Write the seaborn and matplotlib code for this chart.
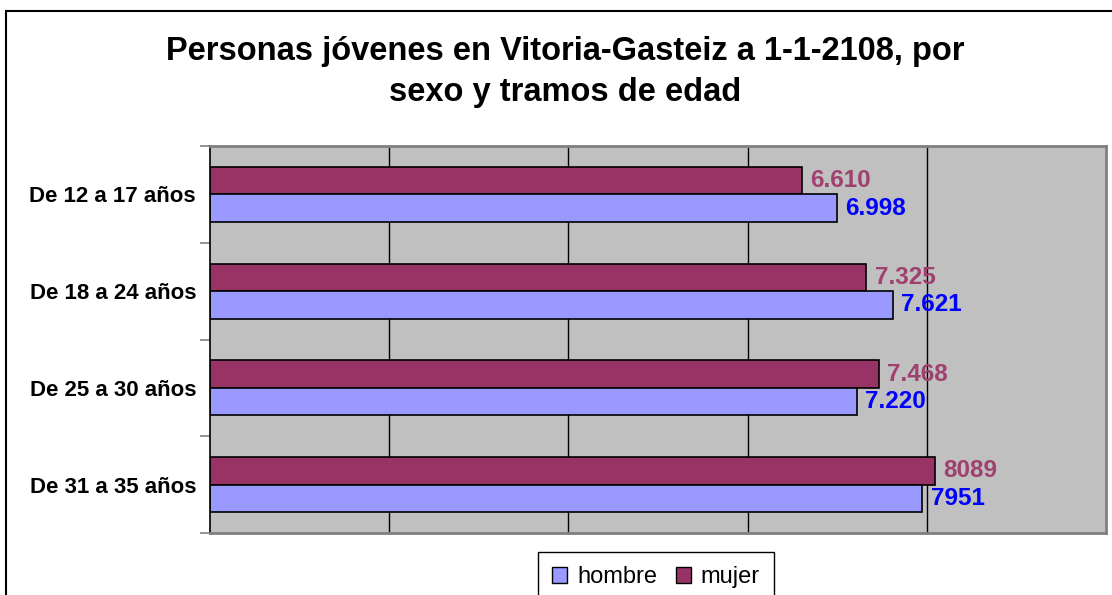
import pandas as pd
import seaborn as sns
import matplotlib.pyplot as plt
from matplotlib.patches import Patch, Rectangle

# datos
tramos = ["De 12 a 17 años", "De 18 a 24 años", "De 25 a 30 años", "De 31 a 35 años"]
hombre = [6998, 7621, 7220, 7951]
mujer = [6610, 7325, 7468, 8089]
etiq_hombre = ["6.998", "7.621", "7.220", "7951"]
etiq_mujer = ["6.610", "7.325", "7.468", "8089"]

col_hombre = "#9999FF"
col_mujer = "#993366"

df = pd.DataFrame({
    "tramo": tramos * 2,
    "sexo": ["mujer"] * len(tramos) + ["hombre"] * len(tramos),
    "personas": mujer + hombre,
})

plt.rcParams['font.family'] = ['Liberation Sans', 'DejaVu Sans']

W, H = 1112, 595
fig = plt.figure(figsize=(W / 100, H / 100), dpi=100)
ax = fig.add_axes([210 / W, 1 - 533 / H, (1106 - 210) / W, (533 - 146) / H])

sns.barplot(data=df, y="tramo", x="personas", hue="sexo", order=tramos,
            hue_order=["mujer", "hombre"],
            palette={"mujer": col_mujer, "hombre": col_hombre},
            orient="h", width=0.57, saturation=1, edgecolor="black",
            linewidth=1.2, legend=False, ax=ax)

# etiquetas de valor
ax.bar_label(ax.containers[0], labels=etiq_mujer, padding=6, color="#A04070",
             fontsize=17.5, fontweight="bold")
ax.bar_label(ax.containers[1], labels=etiq_hombre, padding=6, color="#0000FF",
             fontsize=17.5, fontweight="bold")

ax.set_facecolor("#C0C0C0")
ax.set_xlim(0, 10000)
ax.set_xticks([2000, 4000, 6000, 8000])
ax.set_xticklabels([])
ax.tick_params(axis="x", length=0)
ax.grid(axis="x", color="black", linewidth=1)
ax.set_axisbelow(True)

ax.set_ylim(len(tramos) - 0.5, -0.5)
ax.set_yticks([i - 0.5 for i in range(len(tramos) + 1)], minor=True)
ax.tick_params(axis="y", which="major", length=0, pad=10, labelsize=16)
ax.tick_params(axis="y", which="minor", length=7, color="#808080", width=1.2)
for t in ax.get_yticklabels():
    t.set_fontweight("bold")
ax.set_xlabel("")
ax.set_ylabel("")

for s in ["top", "right", "bottom"]:
    ax.spines[s].set_color("#808080")
    ax.spines[s].set_linewidth(2)
ax.spines["left"].set_color("black")
ax.spines["left"].set_linewidth(1.2)

# titulo
fig.text(565 / W, 1 - 60 / H, "Personas jóvenes en Vitoria-Gasteiz a 1-1-2108, por",
         ha="center", va="baseline", fontsize=23.5, fontweight="bold")
fig.text(565 / W, 1 - 101 / H, "sexo y tramos de edad",
         ha="center", va="baseline", fontsize=23.5, fontweight="bold")

handles = [Patch(facecolor=col_hombre, edgecolor="black", label="hombre"),
           Patch(facecolor=col_mujer, edgecolor="black", label="mujer")]
leg = fig.legend(handles=handles, loc="upper center", bbox_to_anchor=(656 / W, 1 - 552 / H),
                 borderaxespad=0, ncol=2, frameon=True, fancybox=False, edgecolor="black",
                 framealpha=1, fontsize=17, handlelength=0.64, handleheight=0.64,
                 handletextpad=0.42, columnspacing=0.8, borderpad=0.6)
leg.get_frame().set_linewidth(1)

# borde exterior del grafico
fig.patches.append(Rectangle((6 / W, -0.1), 1.2, 1 - 11 / H + 0.1, transform=fig.transFigure,
                             fill=False, edgecolor="black", linewidth=1.5))

fig.savefig("out.png", dpi=100)
